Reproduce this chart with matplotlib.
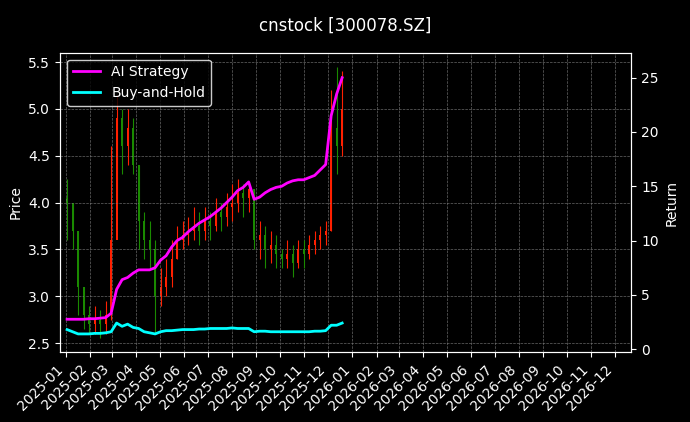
import matplotlib
matplotlib.use('Agg')
import matplotlib.pyplot as plt
import matplotlib.dates as mdates
import numpy as np
import pandas as pd

# weekly bars (Friday dates)
dates = pd.date_range('2025-01-03', periods=51, freq='W-FRI')
close = [4.0, 3.7, 3.1, 2.8, 2.7, 2.75, 2.7, 2.8, 3.6, 4.9, 4.6, 4.8, 4.4, 3.8, 3.6, 3.5, 3.0,
         3.1, 3.2, 3.4, 3.6, 3.65, 3.7, 3.75, 3.7, 3.8, 3.75, 3.9, 3.85, 3.95, 4.0, 4.1, 4.05,
         4.15, 3.6, 3.65, 3.5, 3.55, 3.45, 3.4, 3.45, 3.35, 3.5, 3.45, 3.55, 3.6, 3.65, 3.7,
         4.8, 4.6, 5.0]
high = [4.25, 4.0, 3.7, 3.1, 2.9, 2.9, 2.85, 2.95, 4.6, 5.15, 5.0, 5.0, 4.9, 4.4, 3.9, 3.8, 3.6,
        3.3, 3.4, 3.6, 3.75, 3.8, 3.85, 3.95, 3.9, 3.95, 3.9, 4.05, 4.0, 4.1, 4.2, 4.25, 4.2,
        4.2, 4.15, 3.8, 3.75, 3.7, 3.65, 3.5, 3.6, 3.55, 3.6, 3.6, 3.65, 3.7, 3.75, 3.8,
        5.2, 5.45, 5.4]
low = [3.6, 3.5, 2.8, 2.65, 2.6, 2.6, 2.55, 2.6, 2.75, 4.0, 4.3, 4.4, 4.3, 3.5, 3.4, 3.3, 2.6,
       2.9, 3.0, 3.1, 3.4, 3.5, 3.55, 3.6, 3.55, 3.6, 3.6, 3.7, 3.7, 3.75, 3.8, 3.9, 3.85,
       3.9, 3.5, 3.4, 3.3, 3.35, 3.3, 3.3, 3.3, 3.2, 3.3, 3.3, 3.4, 3.45, 3.5, 3.55,
       3.7, 4.3, 4.5]
ai_ret = [2.75, 2.75, 2.75, 2.75, 2.8, 2.8, 2.85, 2.9, 3.3, 5.5, 6.4, 6.6, 7.0, 7.3, 7.3, 7.3, 7.5,
          8.2, 8.6, 9.4, 10.0, 10.3, 10.8, 11.2, 11.6, 11.9, 12.2, 12.6, 13.0, 13.5, 14.0, 14.6, 14.9,
          15.4, 13.8, 14.0, 14.4, 14.7, 14.9, 15.0, 15.3, 15.5, 15.6, 15.6, 15.8, 16.0, 16.5, 17.0,
          21.5, 23.5, 25.0]
bh_ret = [1.8, 1.6, 1.4, 1.4, 1.4, 1.45, 1.45, 1.5, 1.6, 2.4, 2.1, 2.3, 2.0, 1.9, 1.6, 1.5, 1.4,
          1.6, 1.7, 1.7, 1.75, 1.8, 1.8, 1.8, 1.85, 1.85, 1.9, 1.9, 1.9, 1.9, 1.95, 1.9, 1.9,
          1.9, 1.6, 1.65, 1.65, 1.6, 1.6, 1.6, 1.6, 1.6, 1.6, 1.6, 1.6, 1.65, 1.65, 1.7,
          2.2, 2.2, 2.4]

opens = [close[0] + 0.05] + close[:-1]

plt.style.use('dark_background')
fig, ax = plt.subplots(figsize=(6.9, 4.22), dpi=100)
fig.suptitle('cnstock [300078.SZ]', fontsize=12, y=0.96)

x = mdates.date2num(dates)
for xi, o, h, l, c in zip(x, opens, high, low, close):
    col = '#ff2000' if c >= o else '#1a8a00'
    ax.vlines(xi, l, h, color=col, linewidth=0.8)
    ax.bar(xi, abs(c - o) if c != o else 0.01, bottom=min(o, c), width=2.5, color=col)

ax.set_ylabel('Price')
ax.set_ylim(2.4, 5.6)
ax.grid(True, color='gray', linestyle='--', linewidth=0.5, alpha=0.8)

ax2 = ax.twinx()
ax2.plot(dates, ai_ret, color='#ff00ff', linewidth=2, label='AI Strategy')
ax2.plot(dates, bh_ret, color='#00ffff', linewidth=2, label='Buy-and-Hold')
ax2.set_ylabel('Return')
ax2.set_ylim(-0.3, 27.3)
ax2.legend(loc='upper left', fontsize=10, facecolor='black', edgecolor='white')

ax.set_xlim(pd.Timestamp('2024-12-25'), pd.Timestamp('2026-12-22'))
ax.xaxis.set_major_locator(mdates.MonthLocator())
ax.xaxis.set_major_formatter(mdates.DateFormatter('%Y-%m'))
plt.setp(ax.get_xticklabels(), rotation=45, ha='right')

fig.subplots_adjust(left=0.087, right=0.915, top=0.875, bottom=0.165)
fig.savefig('out.png')
